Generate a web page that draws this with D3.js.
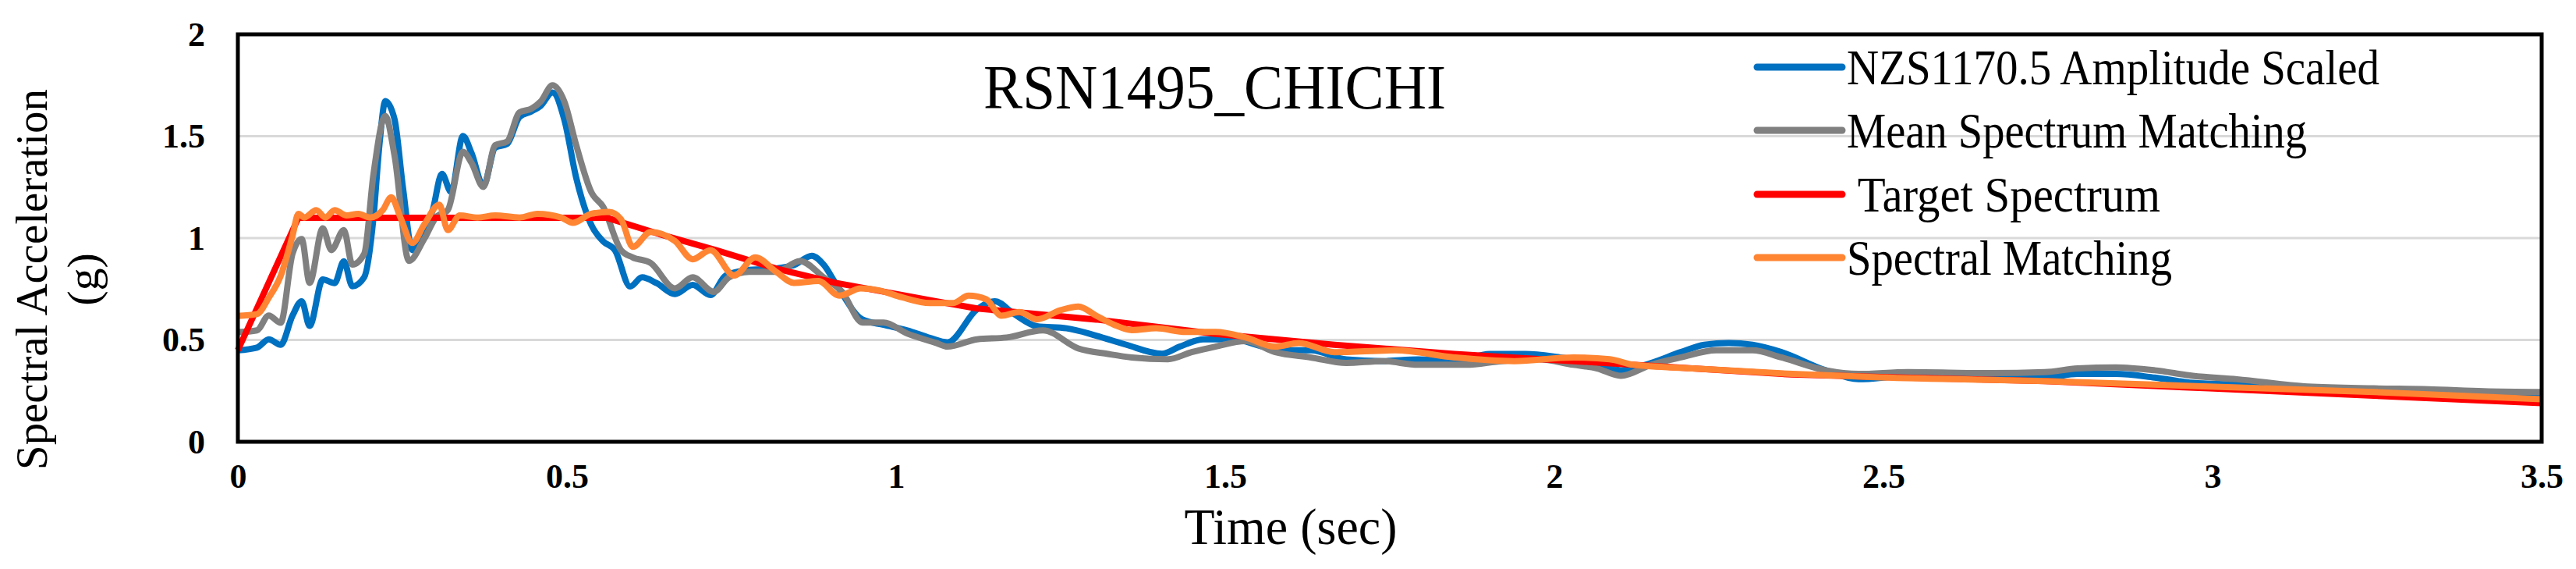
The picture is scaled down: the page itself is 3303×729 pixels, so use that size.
<!DOCTYPE html>
<html>
<head>
<meta charset="utf-8">
<script src="https://cdn.jsdelivr.net/npm/d3@7"></script>
<style>
  body { margin: 0; background: #fff; }
  text { font-family: "Liberation Serif", "Times New Roman", serif; }
</style>
</head>
<body>
<div id="chart"></div>
<script>
// series, [time (sec), Sa (g)]
var amplitudeScaled = [[0,.449],[.029,.462],[.047,.503],[.065,.476],[.083,.619],[.097,.690],[.109,.569],[.129,.797],[.147,.779],[.161,.886],[.174,.763],[.192,.808],[.206,1.100],[.215,1.456],[.224,1.672],[.238,1.583],[.251,1.243],[.265,.941],[.283,1.030],[.296,1.137],[.310,1.315],[.324,1.226],[.342,1.501],[.355,1.417],[.373,1.257],[.391,1.444],[.409,1.462],[.428,1.595],[.446,1.622],[.460,1.649],[.478,1.715],[.496,1.581],[.514,1.296],[.537,1.064],[.555,.984],[.573,.940],[.596,.762],[.614,.807],[.636,.779],[.664,.725],[.691,.770],[.718,.720],[.741,.816],[.773,.842],[.818,.851],[.846,.869],[.872,.913],[.890,.869],[.908,.779],[.949,.600],[.981,.574],[1.017,.547],[1.051,.510],[1.078,.488],[1.123,.65],[1.150,.69],[1.178,.63],[1.214,.567],[1.259,.557],[1.304,.521],[1.349,.477],[1.404,.432],[1.431,.467],[1.467,.503],[1.513,.503],[1.558,.467],[1.594,.449],[1.630,.449],[1.684,.404],[1.739,.396],[1.793,.404],[1.848,.396],[1.902,.431],[1.956,.431],[2.011,.413],[2.065,.387],[2.101,.351],[2.147,.387],[2.192,.440],[2.228,.476],[2.265,.485],[2.301,.476],[2.345,.440],[2.412,.351],[2.462,.307],[2.537,.324],[2.662,.324],[2.745,.315],[2.795,.333],[2.853,.333],[2.912,.315],[2.970,.289],[3.037,.280],[3.145,.253],[3.245,.244],[3.328,.235],[3.412,.226],[3.5,.226]]

var meanMatching = [[0,.538],[.029,.547],[.047,.620],[.065,.584],[.083,.923],[.097,.995],[.109,.780],[.129,1.048],[.142,.941],[.161,1.039],[.174,.870],[.192,.923],[.206,1.313],[.224,1.599],[.238,1.405],[.260,.888],[.283,.995],[.301,1.102],[.319,1.138],[.342,1.423],[.355,1.369],[.373,1.251],[.391,1.456],[.409,1.474],[.428,1.617],[.446,1.635],[.460,1.670],[.478,1.750],[.496,1.670],[.514,1.456],[.537,1.225],[.555,1.153],[.582,.941],[.600,.905],[.627,.878],[.664,.753],[.691,.807],[.723,.736],[.746,.807],[.777,.834],[.818,.834],[.854,.887],[.890,.807],[.918,.736],[.949,.585],[.981,.585],[1.017,.531],[1.061,.485],[1.078,.467],[1.123,.503],[1.168,.512],[1.223,.547],[1.277,.458],[1.322,.431],[1.358,.414],[1.413,.405],[1.449,.440],[1.485,.467],[1.531,.494],[1.576,.440],[1.630,.414],[1.684,.387],[1.739,.396],[1.793,.378],[1.866,.378],[1.920,.396],[1.975,.405],[2.029,.378],[2.065,.360],[2.101,.324],[2.147,.378],[2.192,.414],[2.246,.449],[2.301,.449],[2.345,.414],[2.412,.351],[2.462,.333],[2.537,.342],[2.662,.337],[2.745,.342],[2.795,.360],[2.853,.365],[2.912,.351],[2.970,.324],[3.037,.307],[3.145,.271],[3.245,.262],[3.328,.258],[3.412,.248],[3.5,.244]]

var targetSpectrum = [[0,.45],[.092,1.1],[.56,1.1],[.64,1.02],[.727,.94],[.818,.85],[.908,.78],[1.06,.69],[1.123,.654],[1.304,.60],[1.485,.53],[1.666,.476],[1.848,.431],[2.029,.396],[2.21,.36],[2.36,.33],[2.495,.318],[2.745,.298],[2.995,.262],[3.245,.226],[3.5,.19]]

var spectralMatching = [[0,.618],[.029,.627],[.047,.707],[.065,.814],[.083,1.011],[.092,1.119],[.101,1.101],[.119,1.137],[.133,1.101],[.147,1.137],[.165,1.111],[.183,1.119],[.201,1.101],[.220,1.137],[.233,1.200],[.247,1.101],[.265,.976],[.283,1.066],[.306,1.164],[.319,1.039],[.337,1.111],[.364,1.101],[.391,1.111],[.428,1.101],[.455,1.119],[.491,1.101],[.509,1.075],[.537,1.119],[.564,1.128],[.582,1.093],[.600,.957],[.627,1.030],[.664,.986],[.691,.896],[.718,.941],[.754,.816],[.786,.905],[.818,.834],[.845,.780],[.882,.789],[.914,.717],[.946,.753],[.973,.744],[1.009,.709],[1.051,.681],[1.087,.681],[1.110,.717],[1.137,.699],[1.160,.619],[1.187,.637],[1.214,.601],[1.250,.646],[1.277,.664],[1.304,.619],[1.331,.575],[1.358,.548],[1.395,.557],[1.440,.539],[1.485,.539],[1.531,.512],[1.576,.467],[1.612,.485],[1.666,.440],[1.758,.449],[1.848,.414],[1.939,.396],[2.029,.414],[2.084,.405],[2.120,.378],[2.210,.360],[2.362,.333],[2.495,.316],[2.745,.298],[2.995,.271],[3.245,.244],[3.5,.209]]

var seriesNames = ["NZS1170.5 Amplitude Scaled", "Mean Spectrum Matching", " Target Spectrum", "Spectral Matching"]
var seriesColors = ["#0070c0", "#808080", "#ff0000", "#ff8533"]
var seriesData = [amplitudeScaled, meanMatching, targetSpectrum, spectralMatching]
var xTicks = [0, 0.5, 1, 1.5, 2, 2.5, 3, 3.5]
var yTicks = [0, 0.5, 1, 1.5, 2]

var svg = d3.select("#chart").append("svg")
  .attr("width", 3303)
  .attr("height", 729)

var x = d3.scaleLinear().domain([0, 3.5]).range([305, 3259])
var y = d3.scaleLinear().domain([0, 2]).range([566, 44])

// gridlines
svg.selectAll(".grid").data(yTicks.slice(1, 4)).enter().append("line")
  .attr("x1", x(0)).attr("x2", x(3.5))
  .attr("y1", d => y(d)).attr("y2", d => y(d))
  .style("stroke", "#d9d9d9").style("stroke-width", 3)

// axes with labels only
var xAxis = d3.axisBottom(x).tickValues(xTicks).tickSize(0).tickPadding(28).tickFormat(d3.format("~g"))
var yAxis = d3.axisLeft(y).tickValues(yTicks).tickSize(0).tickPadding(42).tickFormat(d3.format("~g"))

svg.append("g").attr("transform", "translate(0,566)").call(xAxis)
  .call(g => g.select(".domain").remove())
  .selectAll("text").style("font-size", "44px").style("font-weight", "bold")
  .style("font-family", "Liberation Serif").attr("fill", "#000")
svg.append("g").attr("transform", "translate(305,0)").call(yAxis)
  .call(g => g.select(".domain").remove())
  .selectAll("text").style("font-size", "44px").style("font-weight", "bold")
  .style("font-family", "Liberation Serif").attr("fill", "#000")

var line = d3.line().x(d => x(d[0])).y(d => y(d[1])).curve(d3.curveMonotoneX)
var straight = d3.line().x(d => x(d[0])).y(d => y(d[1]))

seriesData.forEach(function(data, i) {
  svg.append("path")
    .datum(data)
    .attr("d", i == 2 ? straight : line)
    .style("fill", "none")
    .style("stroke", seriesColors[i])
    .style("stroke-width", 8)
    .style("stroke-linejoin", "round")
})

// frame
svg.append("rect")
  .attr("x", x(0)).attr("y", y(2))
  .attr("width", x(3.5) - x(0)).attr("height", y(0) - y(2))
  .style("fill", "none").style("stroke", "#000").style("stroke-width", 5)

// title
svg.append("text")
  .attr("x", 1261).attr("y", 139)
  .style("font-size", "80px")
  .attr("textLength", 593).attr("lengthAdjust", "spacingAndGlyphs")
  .text("RSN1495_CHICHI")

// legend
var legendY = [86, 167, 249, 330]
var legendWidths = [683, 590, 402, 417]
for (var i = 0; i < seriesNames.length; i++) {
  svg.append("line")
    .attr("x1", 2253).attr("x2", 2362)
    .attr("y1", legendY[i]).attr("y2", legendY[i])
    .style("stroke", seriesColors[i]).style("stroke-width", 9)
    .style("stroke-linecap", "round")
  svg.append("text")
    .attr("x", 2368).attr("y", legendY[i] + 22)
    .style("font-size", "64px")
    .attr("xml:space", "preserve")
    .attr("textLength", legendWidths[i]).attr("lengthAdjust", "spacingAndGlyphs")
    .text(seriesNames[i])
}

// axis titles
svg.append("text")
  .attr("x", 1655).attr("y", 697)
  .attr("text-anchor", "middle")
  .style("font-size", "66px")
  .attr("textLength", 273).attr("lengthAdjust", "spacingAndGlyphs")
  .text("Time (sec)")

svg.append("text")
  .attr("transform", "translate(60,358) rotate(-90)")
  .attr("text-anchor", "middle")
  .style("font-size", "58px")
  .attr("textLength", 488).attr("lengthAdjust", "spacingAndGlyphs")
  .text("Spectral Acceleration")
svg.append("text")
  .attr("transform", "translate(126,358) rotate(-90)")
  .attr("text-anchor", "middle")
  .style("font-size", "58px")
  .text("(g)")
</script>
</body>
</html>
